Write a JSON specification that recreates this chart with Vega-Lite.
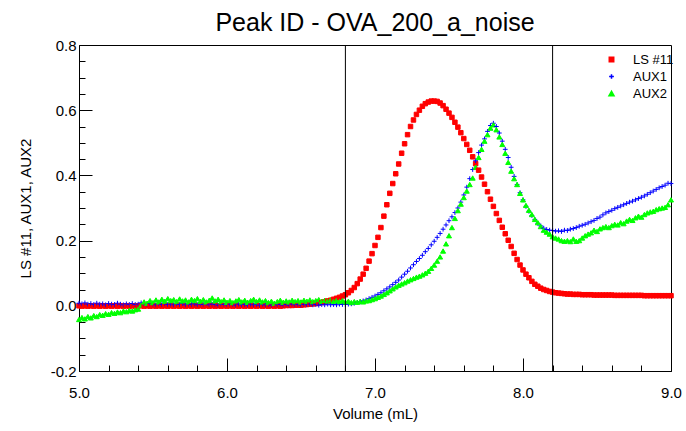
{
  "$schema": "https://vega.github.io/schema/vega-lite/v6.json",
  "width": 592,
  "height": 326,
  "autosize": {"type": "none"},
  "padding": {"left": 79, "top": 45, "right": 15, "bottom": 60},
  "background": "white",
  "title": {"text": "Peak ID - OVA_200_a_noise", "font": "Liberation Sans", "fontSize": 25, "fontWeight": "normal", "color": "black", "frame": "group", "anchor": "middle", "offset": 2},
  "config": {
    "font": "Liberation Sans",
    "view": {"stroke": "black", "strokeWidth": 1},
    "axis": {"domainColor": "black", "domainWidth": 1, "tickColor": "black", "tickWidth": 1, "labelColor": "black", "labelFont": "Liberation Sans", "labelFontSize": 15, "titleFont": "Liberation Sans", "titleFontSize": 15, "titleFontWeight": "normal", "titleColor": "black", "grid": false, "labelOverlap": false, "labelFlush": false},
    "legend": {"labelFont": "Liberation Sans", "labelFontSize": 13, "labelColor": "black"}
  },
  "resolve": {"axis": {"x": "independent", "y": "independent"}},
  "layer": [
    {
      "data": {"values": [
{"v":5.00,"LS #11":0.000,"AUX1":0.008,"AUX2":-0.042},
{"v":5.02,"LS #11":-0.001,"AUX1":0.006,"AUX2":-0.036},
{"v":5.04,"LS #11":0.000,"AUX1":0.009,"AUX2":-0.040},
{"v":5.06,"LS #11":-0.001,"AUX1":0.005,"AUX2":-0.033},
{"v":5.08,"LS #11":0.000,"AUX1":0.007,"AUX2":-0.037},
{"v":5.10,"LS #11":-0.001,"AUX1":0.004,"AUX2":-0.030},
{"v":5.12,"LS #11":0.000,"AUX1":0.008,"AUX2":-0.033},
{"v":5.14,"LS #11":-0.001,"AUX1":0.005,"AUX2":-0.027},
{"v":5.16,"LS #11":0.000,"AUX1":0.006,"AUX2":-0.029},
{"v":5.18,"LS #11":-0.001,"AUX1":0.003,"AUX2":-0.024},
{"v":5.20,"LS #11":0.000,"AUX1":0.007,"AUX2":-0.026},
{"v":5.22,"LS #11":-0.001,"AUX1":0.005,"AUX2":-0.021},
{"v":5.24,"LS #11":0.000,"AUX1":0.004,"AUX2":-0.023},
{"v":5.26,"LS #11":-0.001,"AUX1":0.008,"AUX2":-0.019},
{"v":5.28,"LS #11":0.000,"AUX1":0.005,"AUX2":-0.021},
{"v":5.30,"LS #11":-0.001,"AUX1":0.003,"AUX2":-0.016},
{"v":5.32,"LS #11":0.000,"AUX1":0.006,"AUX2":-0.018},
{"v":5.34,"LS #11":-0.001,"AUX1":0.004,"AUX2":-0.014},
{"v":5.36,"LS #11":0.000,"AUX1":0.007,"AUX2":-0.016},
{"v":5.38,"LS #11":-0.001,"AUX1":0.004,"AUX2":-0.012},
{"v":5.40,"LS #11":0.000,"AUX1":0.005,"AUX2":-0.010},
{"v":5.42,"LS #11":0.000,"AUX1":0.009,"AUX2":0.002},
{"v":5.44,"LS #11":-0.001,"AUX1":0.006,"AUX2":0.012},
{"v":5.46,"LS #11":0.000,"AUX1":0.004,"AUX2":0.008},
{"v":5.48,"LS #11":-0.001,"AUX1":0.007,"AUX2":0.016},
{"v":5.50,"LS #11":0.000,"AUX1":0.005,"AUX2":0.010},
{"v":5.52,"LS #11":-0.001,"AUX1":0.003,"AUX2":0.018},
{"v":5.54,"LS #11":0.000,"AUX1":0.006,"AUX2":0.012},
{"v":5.56,"LS #11":-0.001,"AUX1":0.004,"AUX2":0.020},
{"v":5.58,"LS #11":0.000,"AUX1":0.007,"AUX2":0.014},
{"v":5.60,"LS #11":-0.001,"AUX1":0.004,"AUX2":0.022},
{"v":5.62,"LS #11":0.000,"AUX1":0.005,"AUX2":0.016},
{"v":5.64,"LS #11":-0.001,"AUX1":0.003,"AUX2":0.019},
{"v":5.66,"LS #11":0.000,"AUX1":0.006,"AUX2":0.013},
{"v":5.68,"LS #11":-0.001,"AUX1":0.004,"AUX2":0.021},
{"v":5.70,"LS #11":0.000,"AUX1":0.007,"AUX2":0.015},
{"v":5.72,"LS #11":-0.001,"AUX1":0.003,"AUX2":0.018},
{"v":5.74,"LS #11":0.000,"AUX1":0.005,"AUX2":0.012},
{"v":5.76,"LS #11":-0.001,"AUX1":0.004,"AUX2":0.020},
{"v":5.78,"LS #11":0.000,"AUX1":0.006,"AUX2":0.016},
{"v":5.80,"LS #11":-0.001,"AUX1":0.003,"AUX2":0.022},
{"v":5.82,"LS #11":0.000,"AUX1":0.005,"AUX2":0.014},
{"v":5.84,"LS #11":-0.001,"AUX1":0.004,"AUX2":0.019},
{"v":5.86,"LS #11":0.000,"AUX1":0.006,"AUX2":0.012},
{"v":5.88,"LS #11":-0.001,"AUX1":0.003,"AUX2":0.017},
{"v":5.90,"LS #11":0.000,"AUX1":0.005,"AUX2":0.024},
{"v":5.92,"LS #11":-0.001,"AUX1":0.004,"AUX2":0.015},
{"v":5.94,"LS #11":0.000,"AUX1":0.002,"AUX2":0.020},
{"v":5.96,"LS #11":-0.001,"AUX1":0.005,"AUX2":0.013},
{"v":5.98,"LS #11":0.000,"AUX1":0.004,"AUX2":0.018},
{"v":6.00,"LS #11":-0.001,"AUX1":0.003,"AUX2":0.011},
{"v":6.02,"LS #11":0.000,"AUX1":0.005,"AUX2":0.016},
{"v":6.04,"LS #11":-0.001,"AUX1":0.004,"AUX2":0.010},
{"v":6.06,"LS #11":0.000,"AUX1":0.002,"AUX2":0.015},
{"v":6.08,"LS #11":-0.001,"AUX1":0.005,"AUX2":0.019},
{"v":6.10,"LS #11":0.000,"AUX1":0.003,"AUX2":0.012},
{"v":6.12,"LS #11":-0.001,"AUX1":0.004,"AUX2":0.017},
{"v":6.14,"LS #11":0.000,"AUX1":0.002,"AUX2":0.011},
{"v":6.16,"LS #11":-0.001,"AUX1":0.005,"AUX2":0.016},
{"v":6.18,"LS #11":0.000,"AUX1":0.003,"AUX2":0.020},
{"v":6.20,"LS #11":-0.001,"AUX1":0.004,"AUX2":0.013},
{"v":6.22,"LS #11":0.000,"AUX1":0.002,"AUX2":0.018},
{"v":6.24,"LS #11":-0.001,"AUX1":0.005,"AUX2":0.012},
{"v":6.26,"LS #11":0.000,"AUX1":0.003,"AUX2":0.016},
{"v":6.28,"LS #11":-0.001,"AUX1":0.004,"AUX2":0.010},
{"v":6.30,"LS #11":0.000,"AUX1":0.002,"AUX2":0.014},
{"v":6.32,"LS #11":-0.001,"AUX1":0.005,"AUX2":0.008},
{"v":6.34,"LS #11":0.000,"AUX1":0.003,"AUX2":0.013},
{"v":6.36,"LS #11":-0.001,"AUX1":0.004,"AUX2":0.017},
{"v":6.38,"LS #11":0.000,"AUX1":0.002,"AUX2":0.011},
{"v":6.40,"LS #11":0.001,"AUX1":0.004,"AUX2":0.015},
{"v":6.42,"LS #11":0.001,"AUX1":0.002,"AUX2":0.012},
{"v":6.44,"LS #11":0.001,"AUX1":0.005,"AUX2":0.017},
{"v":6.46,"LS #11":0.002,"AUX1":0.003,"AUX2":0.013},
{"v":6.48,"LS #11":0.002,"AUX1":0.004,"AUX2":0.016},
{"v":6.50,"LS #11":0.002,"AUX1":0.002,"AUX2":0.012},
{"v":6.52,"LS #11":0.003,"AUX1":0.004,"AUX2":0.017},
{"v":6.54,"LS #11":0.004,"AUX1":0.003,"AUX2":0.014},
{"v":6.56,"LS #11":0.005,"AUX1":0.005,"AUX2":0.018},
{"v":6.58,"LS #11":0.006,"AUX1":0.003,"AUX2":0.013},
{"v":6.60,"LS #11":0.007,"AUX1":0.004,"AUX2":0.016},
{"v":6.62,"LS #11":0.009,"AUX1":0.002,"AUX2":0.019},
{"v":6.64,"LS #11":0.010,"AUX1":0.004,"AUX2":0.014},
{"v":6.66,"LS #11":0.012,"AUX1":0.003,"AUX2":0.017},
{"v":6.68,"LS #11":0.015,"AUX1":0.005,"AUX2":0.015},
{"v":6.70,"LS #11":0.017,"AUX1":0.003,"AUX2":0.018},
{"v":6.72,"LS #11":0.020,"AUX1":0.004,"AUX2":0.014},
{"v":6.74,"LS #11":0.023,"AUX1":0.003,"AUX2":0.017},
{"v":6.76,"LS #11":0.026,"AUX1":0.005,"AUX2":0.013},
{"v":6.78,"LS #11":0.030,"AUX1":0.004,"AUX2":0.016},
{"v":6.80,"LS #11":0.034,"AUX1":0.004,"AUX2":0.012},
{"v":6.82,"LS #11":0.040,"AUX1":0.005,"AUX2":0.014},
{"v":6.84,"LS #11":0.047,"AUX1":0.006,"AUX2":0.010},
{"v":6.86,"LS #11":0.056,"AUX1":0.008,"AUX2":0.013},
{"v":6.88,"LS #11":0.068,"AUX1":0.010,"AUX2":0.011},
{"v":6.90,"LS #11":0.082,"AUX1":0.012,"AUX2":0.014},
{"v":6.92,"LS #11":0.097,"AUX1":0.015,"AUX2":0.012},
{"v":6.94,"LS #11":0.115,"AUX1":0.018,"AUX2":0.015},
{"v":6.96,"LS #11":0.137,"AUX1":0.022,"AUX2":0.016},
{"v":6.98,"LS #11":0.160,"AUX1":0.026,"AUX2":0.019},
{"v":7.00,"LS #11":0.185,"AUX1":0.030,"AUX2":0.022},
{"v":7.02,"LS #11":0.210,"AUX1":0.035,"AUX2":0.026},
{"v":7.04,"LS #11":0.240,"AUX1":0.040,"AUX2":0.030},
{"v":7.06,"LS #11":0.275,"AUX1":0.046,"AUX2":0.035},
{"v":7.08,"LS #11":0.310,"AUX1":0.052,"AUX2":0.040},
{"v":7.10,"LS #11":0.345,"AUX1":0.058,"AUX2":0.046},
{"v":7.12,"LS #11":0.375,"AUX1":0.065,"AUX2":0.052},
{"v":7.14,"LS #11":0.405,"AUX1":0.072,"AUX2":0.058},
{"v":7.16,"LS #11":0.435,"AUX1":0.079,"AUX2":0.063},
{"v":7.18,"LS #11":0.468,"AUX1":0.088,"AUX2":0.067},
{"v":7.20,"LS #11":0.497,"AUX1":0.097,"AUX2":0.071},
{"v":7.22,"LS #11":0.525,"AUX1":0.106,"AUX2":0.076},
{"v":7.24,"LS #11":0.550,"AUX1":0.116,"AUX2":0.080},
{"v":7.26,"LS #11":0.570,"AUX1":0.126,"AUX2":0.084},
{"v":7.28,"LS #11":0.587,"AUX1":0.136,"AUX2":0.088},
{"v":7.30,"LS #11":0.600,"AUX1":0.145,"AUX2":0.091},
{"v":7.32,"LS #11":0.612,"AUX1":0.155,"AUX2":0.095},
{"v":7.34,"LS #11":0.620,"AUX1":0.166,"AUX2":0.100},
{"v":7.36,"LS #11":0.625,"AUX1":0.176,"AUX2":0.106},
{"v":7.38,"LS #11":0.628,"AUX1":0.187,"AUX2":0.115},
{"v":7.40,"LS #11":0.628,"AUX1":0.198,"AUX2":0.125},
{"v":7.42,"LS #11":0.627,"AUX1":0.210,"AUX2":0.137},
{"v":7.44,"LS #11":0.622,"AUX1":0.222,"AUX2":0.150},
{"v":7.46,"LS #11":0.614,"AUX1":0.235,"AUX2":0.168},
{"v":7.48,"LS #11":0.603,"AUX1":0.248,"AUX2":0.190},
{"v":7.50,"LS #11":0.591,"AUX1":0.261,"AUX2":0.215},
{"v":7.52,"LS #11":0.578,"AUX1":0.273,"AUX2":0.240},
{"v":7.54,"LS #11":0.563,"AUX1":0.286,"AUX2":0.268},
{"v":7.56,"LS #11":0.548,"AUX1":0.300,"AUX2":0.292},
{"v":7.58,"LS #11":0.531,"AUX1":0.318,"AUX2":0.312},
{"v":7.60,"LS #11":0.513,"AUX1":0.340,"AUX2":0.332},
{"v":7.62,"LS #11":0.495,"AUX1":0.364,"AUX2":0.352},
{"v":7.64,"LS #11":0.477,"AUX1":0.390,"AUX2":0.372},
{"v":7.66,"LS #11":0.457,"AUX1":0.418,"AUX2":0.392},
{"v":7.68,"LS #11":0.436,"AUX1":0.445,"AUX2":0.425},
{"v":7.70,"LS #11":0.416,"AUX1":0.470,"AUX2":0.455},
{"v":7.72,"LS #11":0.395,"AUX1":0.493,"AUX2":0.480},
{"v":7.74,"LS #11":0.373,"AUX1":0.512,"AUX2":0.505},
{"v":7.76,"LS #11":0.350,"AUX1":0.535,"AUX2":0.525},
{"v":7.78,"LS #11":0.327,"AUX1":0.553,"AUX2":0.545},
{"v":7.80,"LS #11":0.305,"AUX1":0.560,"AUX2":0.555},
{"v":7.82,"LS #11":0.283,"AUX1":0.550,"AUX2":0.540},
{"v":7.84,"LS #11":0.262,"AUX1":0.530,"AUX2":0.518},
{"v":7.86,"LS #11":0.241,"AUX1":0.505,"AUX2":0.495},
{"v":7.88,"LS #11":0.221,"AUX1":0.480,"AUX2":0.468},
{"v":7.90,"LS #11":0.201,"AUX1":0.455,"AUX2":0.440},
{"v":7.92,"LS #11":0.182,"AUX1":0.425,"AUX2":0.413},
{"v":7.94,"LS #11":0.161,"AUX1":0.397,"AUX2":0.390},
{"v":7.96,"LS #11":0.142,"AUX1":0.372,"AUX2":0.372},
{"v":7.98,"LS #11":0.125,"AUX1":0.347,"AUX2":0.345},
{"v":8.00,"LS #11":0.110,"AUX1":0.325,"AUX2":0.325},
{"v":8.02,"LS #11":0.097,"AUX1":0.305,"AUX2":0.308},
{"v":8.04,"LS #11":0.086,"AUX1":0.290,"AUX2":0.293},
{"v":8.06,"LS #11":0.075,"AUX1":0.277,"AUX2":0.280},
{"v":8.08,"LS #11":0.066,"AUX1":0.265,"AUX2":0.265},
{"v":8.10,"LS #11":0.060,"AUX1":0.253,"AUX2":0.255},
{"v":8.12,"LS #11":0.054,"AUX1":0.245,"AUX2":0.243},
{"v":8.14,"LS #11":0.050,"AUX1":0.238,"AUX2":0.232},
{"v":8.16,"LS #11":0.047,"AUX1":0.234,"AUX2":0.226},
{"v":8.18,"LS #11":0.044,"AUX1":0.232,"AUX2":0.220},
{"v":8.20,"LS #11":0.042,"AUX1":0.231,"AUX2":0.212},
{"v":8.22,"LS #11":0.040,"AUX1":0.229,"AUX2":0.208},
{"v":8.24,"LS #11":0.039,"AUX1":0.230,"AUX2":0.205},
{"v":8.26,"LS #11":0.038,"AUX1":0.228,"AUX2":0.200},
{"v":8.28,"LS #11":0.037,"AUX1":0.232,"AUX2":0.198},
{"v":8.30,"LS #11":0.036,"AUX1":0.231,"AUX2":0.200},
{"v":8.32,"LS #11":0.036,"AUX1":0.235,"AUX2":0.197},
{"v":8.34,"LS #11":0.035,"AUX1":0.237,"AUX2":0.205},
{"v":8.36,"LS #11":0.035,"AUX1":0.240,"AUX2":0.198},
{"v":8.38,"LS #11":0.035,"AUX1":0.244,"AUX2":0.200},
{"v":8.40,"LS #11":0.034,"AUX1":0.247,"AUX2":0.208},
{"v":8.42,"LS #11":0.034,"AUX1":0.250,"AUX2":0.215},
{"v":8.44,"LS #11":0.034,"AUX1":0.254,"AUX2":0.220},
{"v":8.46,"LS #11":0.034,"AUX1":0.258,"AUX2":0.224},
{"v":8.48,"LS #11":0.033,"AUX1":0.262,"AUX2":0.232},
{"v":8.50,"LS #11":0.033,"AUX1":0.268,"AUX2":0.228},
{"v":8.52,"LS #11":0.033,"AUX1":0.272,"AUX2":0.236},
{"v":8.54,"LS #11":0.033,"AUX1":0.279,"AUX2":0.240},
{"v":8.56,"LS #11":0.033,"AUX1":0.285,"AUX2":0.243},
{"v":8.58,"LS #11":0.033,"AUX1":0.289,"AUX2":0.240},
{"v":8.60,"LS #11":0.033,"AUX1":0.293,"AUX2":0.246},
{"v":8.62,"LS #11":0.032,"AUX1":0.298,"AUX2":0.250},
{"v":8.64,"LS #11":0.032,"AUX1":0.302,"AUX2":0.248},
{"v":8.66,"LS #11":0.032,"AUX1":0.306,"AUX2":0.255},
{"v":8.68,"LS #11":0.032,"AUX1":0.310,"AUX2":0.252},
{"v":8.70,"LS #11":0.032,"AUX1":0.314,"AUX2":0.260},
{"v":8.72,"LS #11":0.032,"AUX1":0.318,"AUX2":0.265},
{"v":8.74,"LS #11":0.032,"AUX1":0.321,"AUX2":0.262},
{"v":8.76,"LS #11":0.032,"AUX1":0.325,"AUX2":0.270},
{"v":8.78,"LS #11":0.032,"AUX1":0.329,"AUX2":0.275},
{"v":8.80,"LS #11":0.032,"AUX1":0.333,"AUX2":0.272},
{"v":8.82,"LS #11":0.031,"AUX1":0.337,"AUX2":0.280},
{"v":8.84,"LS #11":0.031,"AUX1":0.342,"AUX2":0.285},
{"v":8.86,"LS #11":0.031,"AUX1":0.347,"AUX2":0.288},
{"v":8.88,"LS #11":0.031,"AUX1":0.352,"AUX2":0.290},
{"v":8.90,"LS #11":0.031,"AUX1":0.357,"AUX2":0.295},
{"v":8.92,"LS #11":0.031,"AUX1":0.362,"AUX2":0.298},
{"v":8.94,"LS #11":0.031,"AUX1":0.366,"AUX2":0.300},
{"v":8.96,"LS #11":0.031,"AUX1":0.370,"AUX2":0.302},
{"v":8.98,"LS #11":0.031,"AUX1":0.376,"AUX2":0.310},
{"v":9.00,"LS #11":0.031,"AUX1":0.375,"AUX2":0.325}
      ]},
      "transform": [{"fold": ["LS #11", "AUX1", "AUX2"], "as": ["series", "val"]}],
      "mark": {"type": "point", "filled": false, "opacity": 1, "strokeWidth": 1},
      "encoding": {
        "x": {"field": "v", "type": "quantitative", "scale": {"domain": [5, 9], "nice": false, "zero": false},
          "axis": {"orient": "bottom", "title": "Volume (mL)", "values": [5, 6, 7, 8, 9], "format": ".1f",
            "tickSize": -13, "tickColor": "black", "labelPadding": 27, "titlePadding": 6}},
        "y": {"field": "val", "type": "quantitative", "scale": {"domain": [-0.2, 0.8], "nice": false, "zero": false},
          "axis": {"orient": "left", "title": "LS #11, AUX1, AUX2", "values": [-0.2, 0, 0.2, 0.4, 0.6, 0.8], "format": ".1f",
            "labelExpr": "replace(datum.label, '\u2212', '-')",
            "tickSize": -13, "tickColor": "black", "labelPadding": 16, "titlePadding": 17}},
        "color": {"field": "series", "type": "nominal", "scale": {"domain": ["LS #11", "AUX1", "AUX2"], "range": ["#ff0000", "#0000ff", "#00ff00"]},
          "legend": {"title": null, "orient": "none", "legendX": 526, "legendY": 8, "padding": 0, "rowPadding": 3, "labelOffset": 15}},
        "fill": {"field": "series", "type": "nominal", "scale": {"domain": ["LS #11", "AUX1", "AUX2"], "range": ["#ff0000", "transparent", "#00ff00"]}},
        "shape": {"field": "series", "type": "nominal", "scale": {"domain": ["LS #11", "AUX1", "AUX2"], "range": ["square", "M-1,0L1,0M0,-1L0,1", "triangle-up"]}},
        "size": {"field": "series", "type": "nominal", "scale": {"domain": ["LS #11", "AUX1", "AUX2"], "range": [20, 25, 4]}}
      }
    },
    {
      "data": {"values": [{"v": 6.8}, {"v": 8.2}]},
      "mark": {"type": "rule", "color": "black", "strokeWidth": 1},
      "encoding": {
        "x": {"field": "v", "type": "quantitative", "scale": {"domain": [5, 9], "nice": false, "zero": false}, "axis": null}
      }
    },
    {
      "data": {"values": [{"v": 5, "val": 0}]},
      "mark": {"type": "point", "opacity": 0},
      "encoding": {
        "x": {"field": "v", "type": "quantitative", "scale": {"domain": [5, 9], "nice": false, "zero": false},
          "axis": {"orient": "bottom", "title": null, "values": [5.2,5.4,5.6,5.8,6.2,6.4,6.6,6.8,7.2,7.4,7.6,7.8,8.2,8.4,8.6,8.8], "tickSize": -6, "tickColor": "black", "labels": false, "domain": false}},
        "y": {"field": "val", "type": "quantitative", "scale": {"domain": [-0.2, 0.8], "nice": false, "zero": false},
          "axis": {"orient": "left", "title": null, "values": [-0.15,-0.1,-0.05,0.05,0.1,0.15,0.25,0.3,0.35,0.45,0.5,0.55,0.65,0.7,0.75], "tickSize": -6, "tickColor": "black", "labels": false, "domain": false}}
      }
    }
  ]
}
